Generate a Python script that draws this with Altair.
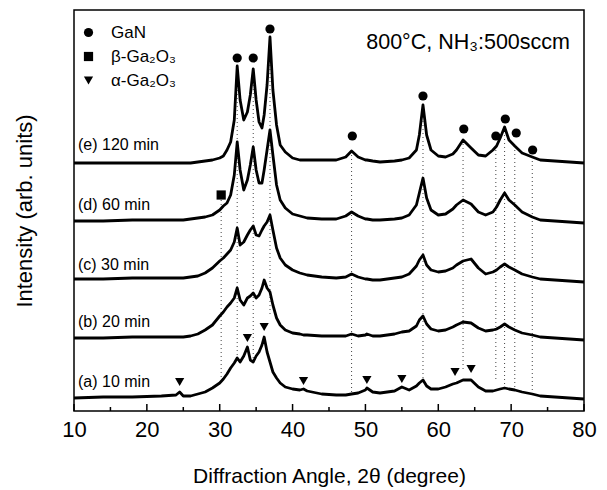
import altair as alt
import pandas as pd

# 2-theta sampling positions (degrees)
angle = [10, 14, 18, 22, 24, 24.5, 25, 26, 27, 28,
         29, 30, 30.5, 31, 31.5, 32, 32.4, 32.8, 33.3, 33.8,
         34.2, 34.6, 35.0, 35.4, 35.8, 36.1, 36.5, 36.9, 37.3, 37.8,
         38.3, 39, 40, 41, 41.5, 42, 44, 46, 47.3, 48.1,
         49, 50, 50.2, 51, 52, 54, 55, 56, 57, 57.4,
         57.9, 58.4, 59, 60, 61, 62, 62.5, 63.4, 64.5, 65.5,
         66.5, 67.5, 68.0, 68.5, 69.1, 69.7, 70.5, 71.5, 72.9, 74,
         76, 78, 80]

# stacked intensities (arb. units, offset per sample)
curve_e = [248, 248, 248, 248, 248, 248, 248, 248, 249, 250,
           251, 253, 255, 261, 269, 291, 345, 311, 291, 299,
           316, 342, 311, 289, 283, 296, 326, 374, 321, 286,
           266, 259, 253, 251, 251, 251, 251, 251, 254, 260,
           254, 251, 251, 250, 249, 250, 251, 253, 261, 276,
           306, 276, 261, 255, 254, 257, 261, 271, 263, 256,
           255, 261, 265, 273, 284, 271, 265, 258, 254, 251,
           250, 249, 248]
curve_d = [190, 190, 191, 191, 191, 191, 191, 192, 193, 194,
           196, 201, 205, 208, 216, 236, 269, 241, 221, 231,
           246, 264, 241, 228, 228, 241, 261, 281, 256, 226,
           211, 203, 197, 195, 194, 193, 192, 192, 195, 199,
           195, 192, 192, 191, 191, 192, 193, 196, 206, 218,
           233, 213, 201, 196, 197, 202, 206, 211, 207, 199,
           196, 199, 204, 211, 218, 211, 206, 199, 194, 191,
           190, 189, 188]
curve_c = [132, 132, 133, 133, 133, 133, 133, 134, 135, 138,
           143, 150, 153, 157, 161, 169, 183, 166, 169, 176,
           181, 185, 176, 175, 181, 185, 189, 196, 181, 163,
           153, 146, 141, 138, 137, 136, 134, 133, 134, 137,
           134, 132, 132, 131, 131, 133, 134, 137, 145, 151,
           156, 146, 141, 139, 140, 143, 146, 150, 152, 143,
           137, 139, 141, 144, 147, 144, 141, 137, 134, 132,
           131, 130, 129]
curve_b = [73, 73, 74, 74, 74, 74, 74, 75, 77, 81,
           86, 95, 99, 104, 108, 113, 123, 111, 106, 113,
           115, 118, 113, 116, 123, 131, 123, 119, 106, 93,
           86, 81, 78, 77, 76, 76, 75, 75, 75, 77,
           75, 76, 77, 75, 75, 77, 79, 80, 85, 91,
           95, 87, 82, 80, 81, 84, 86, 89, 88, 83,
           80, 81, 82, 84, 87, 84, 81, 78, 76, 74,
           73, 72, 71]
curve_a = [13, 14, 14, 15, 16, 19, 15, 15, 17, 19,
           23, 28, 32, 37, 43, 48, 53, 49, 55, 64,
           51, 49, 55, 59, 66, 74, 59, 49, 39, 33,
           28, 24, 22, 21, 22, 20, 17, 16, 16, 17,
           18, 21, 23, 19, 18, 20, 24, 21, 25, 28,
           31, 25, 22, 22, 24, 27, 28, 31, 31, 24,
           20, 20, 21, 22, 23, 22, 21, 19, 17, 15,
           14, 13, 12]

sample_names = ["(a) 10 min", "(b) 20 min", "(c) 30 min", "(d) 60 min", "(e) 120 min"]
sample_curves = [curve_a, curve_b, curve_c, curve_d, curve_e]

# phase markers
phases = ["GaN", "β-Ga₂O₃", "α-Ga₂O₃"]
gan_angle = [32.4, 34.6, 36.9, 48.2, 57.9, 63.5, 67.9, 69.2, 70.7, 72.95]
gan_height = [353, 353, 382, 275, 315, 282, 275, 292, 278, 261]
beta_angle = [30.2]
beta_height = [216]
alpha_angle = [24.5, 33.8, 36.1, 41.5, 50.2, 55.0, 62.3, 64.5]
alpha_height = [29, 73, 84, 30, 31, 32, 39, 42]

# dotted reference lines
ref_angle = [30.2, 32.4, 34.6, 36.9, 48.1, 57.9, 63.4, 67.9, 69.1, 70.5, 72.9]
ref_top = [211, 345, 342, 374, 260, 306, 271, 265, 284, 265, 254]
ref_bottom = [33, 53, 49, 96, 17, 31, 39, 30, 27, 24, 20]

major_ticks = [10, 20, 30, 40, 50, 60, 70, 80]
minor_ticks = [15, 25, 35, 45, 55, 65, 75]

rows = []
for name, vals in zip(sample_names, sample_curves):
    assert len(vals) == len(angle), name
    for a, v in zip(angle, vals):
        rows.append({"angle": a, "intensity": v, "sample": name})
lines_df = pd.DataFrame(rows)

mk = []
for a, h in zip(gan_angle, gan_height):
    mk.append({"angle": a, "intensity": h, "phase": phases[0]})
for a, h in zip(beta_angle, beta_height):
    mk.append({"angle": a, "intensity": h, "phase": phases[1]})
for a, h in zip(alpha_angle, alpha_height):
    mk.append({"angle": a, "intensity": h, "phase": phases[2]})
markers_df = pd.DataFrame(mk)

ref_df = pd.DataFrame({"angle": ref_angle, "intensity": ref_top, "low": ref_bottom})
maj_df = pd.DataFrame({"angle": major_ticks})
min_df = pd.DataFrame({"angle": minor_ticks})

W, H = 510, 401
FONT = "Liberation Sans"

x_enc = alt.X("angle:Q", scale=alt.Scale(domain=[10, 80], nice=False, zero=False),
              axis=alt.Axis(values=major_ticks, ticks=False, tickSize=0, domain=False, grid=False,
                            labelFontSize=22, labelPadding=8, labelColor="black", format="d",
                            labelFlush=False, labelOverlap=False,
                            title="Diffraction Angle, 2θ (degree)", titleFontSize=21,
                            titlePadding=25, titleFontWeight="normal", titleColor="black"))
y_enc = alt.Y("intensity:Q", scale=alt.Scale(domain=[0, 401], nice=False, zero=False),
              axis=alt.Axis(labels=False, ticks=False, tickSize=0, domain=False, grid=False,
                            title="Intensity (arb. units)", titleFontSize=22, titlePadding=38,
                            titleFontWeight="normal", titleColor="black"))

refs = alt.Chart(ref_df).mark_rule(color="#444444", strokeWidth=1, strokeDash=[1, 3]).encode(
    x=x_enc, y=y_enc, y2="low:Q")

lines = alt.Chart(lines_df).mark_line(color="black", strokeWidth=2.8, strokeJoin="round").encode(
    x=x_enc, y=y_enc, detail="sample:N")

points = alt.Chart(markers_df).mark_point(filled=True, color="black", opacity=1, size=85).encode(
    x=x_enc, y=y_enc,
    shape=alt.Shape("phase:N",
                    scale=alt.Scale(domain=phases, range=["circle", "square", "triangle-down"]),
                    legend=alt.Legend(title=None, orient="none", legendX=6, legendY=14,
                                      labelFontSize=17, labelColor="black", labelFont=FONT,
                                      symbolSize=85, rowPadding=6, labelOffset=14, padding=0,
                                      symbolFillColor="black", symbolStrokeWidth=0)))

maj = alt.Chart(maj_df).mark_rule(color="black", strokeWidth=1.5).encode(
    x=x_enc, y=alt.value(H), y2=alt.value(H - 7))
mnr = alt.Chart(min_df).mark_rule(color="black", strokeWidth=1.5).encode(
    x=x_enc, y=alt.value(H), y2=alt.value(H - 4))

label_y = [372, 312, 255, 195, 135]
texts = []
for name, yy in zip(sample_names, label_y):
    texts.append(alt.Chart(pd.DataFrame({"t": [name]})).mark_text(
        align="left", baseline="middle", fontSize=16, font=FONT, color="black").encode(
        text="t:N", x=alt.value(4), y=alt.value(yy)))

cond = alt.Chart(pd.DataFrame({"t": ["800°C, NH₃:500sccm"]})).mark_text(
    align="right", baseline="middle", fontSize=21.5, font=FONT, color="black").encode(
    text="t:N", x=alt.value(496), y=alt.value(33))

chart = alt.layer(refs, lines, points, maj, mnr, *texts, cond).properties(
    width=W, height=H,
    autosize=alt.AutoSizeParams(type="none"),
    padding={"left": 66, "top": 2, "right": 15, "bottom": 80},
).configure(font=FONT).configure_view(stroke="black", strokeWidth=1.5)

chart.save("out.html", embed_options={"renderer": "svg", "actions": False})
